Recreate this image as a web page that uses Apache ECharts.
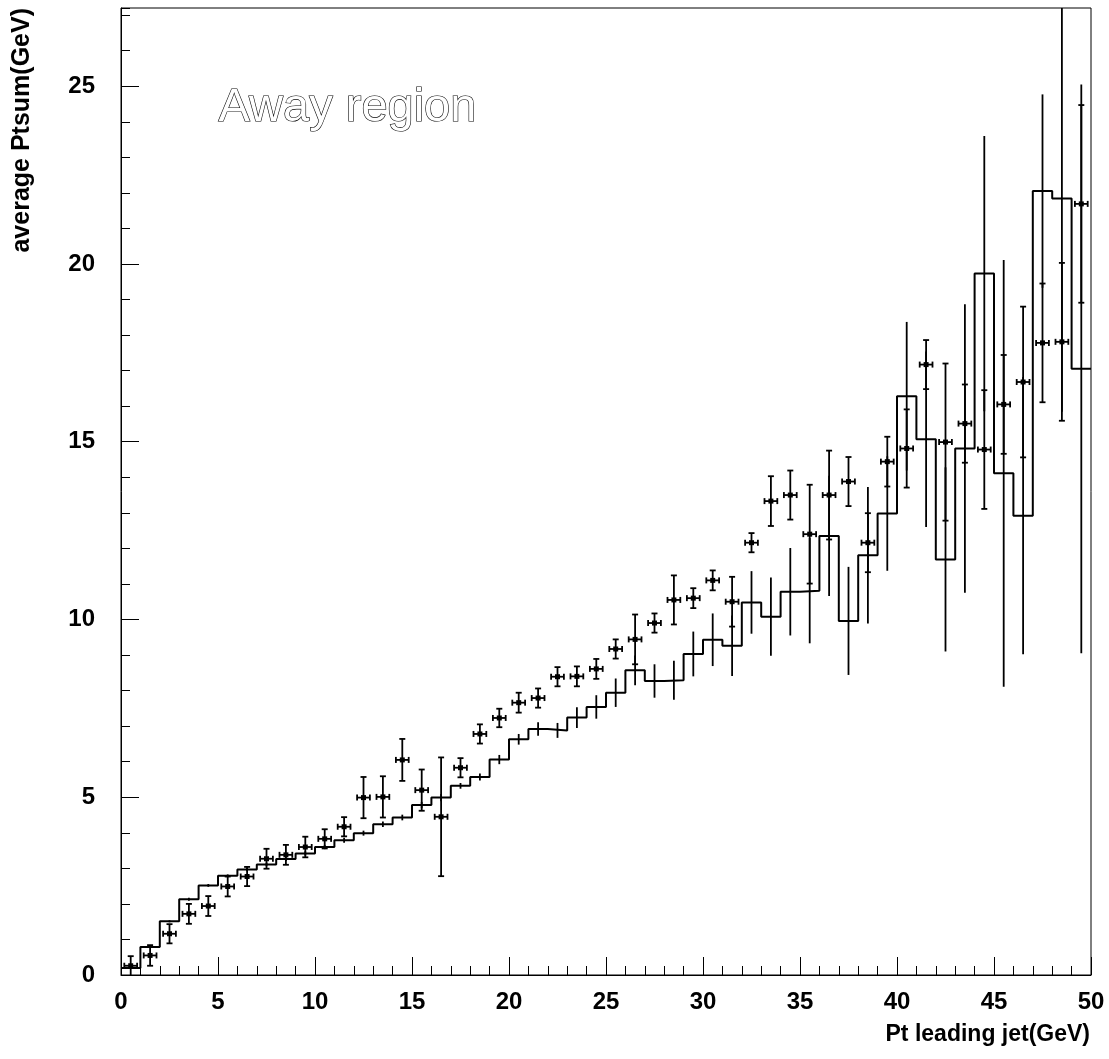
<!DOCTYPE html>
<html>
<head>
<meta charset="utf-8">
<script src="https://cdn.jsdelivr.net/npm/echarts@6/dist/echarts.min.js"></script>
<style>
html,body{margin:0;padding:0;background:#fff;}
#chart{width:1109px;height:1059px;}
</style>
</head>
<body>
<div id="chart"></div>
<script>
// ---- data ----
const binCenters = [0.5,1.5,2.5,3.5,4.5,5.5,6.5,7.5,8.5,9.5,
  10.5,11.5,12.5,13.5,14.5,15.5,16.5,17.5,18.5,19.5,
  20.5,21.5,22.5,23.5,24.5,25.5,26.5,27.5,28.5,29.5,
  30.5,31.5,32.5,33.5,34.5,35.5,36.5,37.5,38.5,39.5,
  40.5,41.5,42.5,43.5,44.5,45.5,46.5,47.5,48.5,49.5];
const binHalfWidth = 0.5;

// histogram (MC) mean and error
const mcMean = [0.20,0.79,1.51,2.13,2.52,2.79,2.97,3.11,3.26,3.42,
  3.60,3.79,3.99,4.24,4.43,4.78,4.99,5.32,5.57,6.06,
  6.63,6.92,6.88,7.24,7.54,7.94,8.57,8.27,8.29,9.03,
  9.43,9.26,10.48,10.08,10.78,10.81,12.35,9.96,11.81,12.98,
  16.28,15.07,11.69,14.81,19.73,14.11,12.92,22.05,21.84,17.05];
const mcErr = [0.02,0.03,0.03,0.04,0.04,0.04,0.05,0.05,0.05,0.06,
  0.06,0.07,0.07,0.08,0.08,0.09,0.10,0.08,0.10,0.13,
  0.15,0.19,0.21,0.29,0.33,0.40,0.42,0.47,0.55,0.63,
  0.74,0.85,0.88,1.10,1.23,1.48,1.69,1.52,1.92,1.61,
  2.09,2.47,2.59,4.06,3.87,6.00,3.90,2.72,6.00,8.00];

// data points mean and error
const dataMean = [0.26,0.55,1.16,1.72,1.94,2.49,2.77,3.27,3.38,3.60,
  3.83,4.17,4.99,5.01,6.05,5.20,4.45,5.83,6.78,7.23,
  7.66,7.79,8.39,8.40,8.61,9.17,9.44,9.90,10.55,10.60,
  11.10,10.50,12.16,13.33,13.50,12.40,13.50,13.88,12.16,14.44,
  14.81,17.17,14.99,15.51,14.78,16.05,16.68,17.78,17.81,21.69];
const dataErr = [0.27,0.29,0.27,0.28,0.28,0.28,0.27,0.28,0.28,0.29,
  0.27,0.27,0.58,0.58,0.59,0.58,1.67,0.27,0.27,0.26,
  0.28,0.27,0.27,0.28,0.28,0.27,0.70,0.27,0.69,0.28,
  0.28,0.70,0.27,0.70,0.69,1.39,1.25,0.69,0.83,0.70,
  1.10,0.69,2.21,1.10,1.67,1.39,2.12,1.67,2.22,2.78];
const dataXErr = 0.33;

const xTickValues = [0,5,10,15,20,25,30,35,40,45,50];
const yTickValues = [0,5,10,15,20,25];
const X_MIN = 0, X_MAX = 50, Y_MIN = 0, Y_MAX = 27.2;

const titleText = 'Away region';
const xTitle = 'Pt leading jet(GeV)';
const yTitle = 'average Ptsum(GeV)';

// ---- build series data ----
const histLine = [];
binCenters.forEach((c, i) => {
  histLine.push([c - binHalfWidth, mcMean[i]]);
  histLine.push([c + binHalfWidth, mcMean[i]]);
});
const mcErrData = binCenters.map((c, i) => [c, mcMean[i], mcErr[i]]);
const dataPts = binCenters.map((c, i) => [c, dataMean[i], dataErr[i]]);

const clampY = v => Math.max(Y_MIN, Math.min(Y_MAX, v));
const LW = 1.8;
const LABEL_FONT = '"Liberation Sans", Arial, sans-serif';
const NARROW_FONT = '"Liberation Sans Narrow", "Liberation Sans", Arial, sans-serif';

const chart = echarts.init(document.getElementById('chart'), null, {renderer: 'canvas'});
chart.setOption({
  animation: false,
  backgroundColor: '#fff',
  grid: {left: 121, right: 18, top: 8, bottom: 84, show: true, borderColor: '#000', borderWidth: 1},
  xAxis: {
    type: 'value', min: X_MIN, max: X_MAX, interval: 5,
    axisLine: {show: true, lineStyle: {color: '#000', width: 1}},
    axisTick: {show: true, inside: true, length: 18, lineStyle: {color: '#000', width: 1}},
    minorTick: {show: true, splitNumber: 5, length: 9, lineStyle: {color: '#000', width: 1}},
    splitLine: {show: false},
    axisLabel: {
      margin: 15, color: '#000', fontWeight: 'bold', fontSize: 24, fontFamily: NARROW_FONT,
      formatter: v => xTickValues.includes(v) ? String(v) : ''
    }
  },
  yAxis: [{
    type: 'value', min: Y_MIN, max: Y_MAX, interval: 5, position: 'left',
    axisLine: {show: true, lineStyle: {color: '#000', width: 1}},
    axisTick: {show: true, inside: true, length: 18, lineStyle: {color: '#000', width: 1}},
    splitLine: {show: false},
    axisLabel: {
      margin: 26, color: '#000', fontWeight: 'bold', fontSize: 24, fontFamily: LABEL_FONT,
      showMaxLabel: false,
      formatter: v => yTickValues.includes(v) ? String(v) : ''
    }
  }, {
    type: 'value', min: Y_MIN, max: Y_MAX, interval: 1, position: 'left', offset: 0,
    axisLine: {show: false},
    axisTick: {show: true, inside: true, length: 9, lineStyle: {color: '#000', width: 1}},
    splitLine: {show: false},
    axisLabel: {show: false}
  }],
  graphic: [
    {type: 'text', left: 218, top: 84, silent: true,
      style: {text: titleText, font: '47px ' + LABEL_FONT, fill: '#fff', stroke: '#000', lineWidth: 1.2}},
    {type: 'text', x: 1090, y: 1035, silent: true,
      style: {text: xTitle, font: 'bold 23px ' + NARROW_FONT, fill: '#000', textAlign: 'right', textVerticalAlign: 'middle'}},
    {type: 'text', x: 22, y: 8, rotation: Math.PI / 2, silent: true,
      style: {text: yTitle, font: 'bold 25px ' + LABEL_FONT, fill: '#000', textAlign: 'right', textVerticalAlign: 'middle'}}
  ],
  series: [
    {
      type: 'line', data: histLine, symbol: 'none', clip: true,
      lineStyle: {color: '#000', width: 2}, z: 3
    },
    {
      type: 'custom', data: mcErrData, encode: {x: 0, y: 1}, z: 3,
      renderItem: (params, api) => {
        const x = api.value(0), y = api.value(1), e = api.value(2);
        const p1 = api.coord([x, clampY(y - e)]);
        const p2 = api.coord([x, clampY(y + e)]);
        return {type: 'line', shape: {x1: p1[0], y1: p1[1], x2: p2[0], y2: p2[1]},
          style: {stroke: '#000', lineWidth: LW}};
      }
    },
    {
      type: 'custom', data: dataPts, encode: {x: 0, y: 1}, z: 4,
      renderItem: (params, api) => {
        const x = api.value(0), y = api.value(1), e = api.value(2);
        const c = api.coord([x, y]);
        const top = api.coord([x, clampY(y + e)]);
        const bot = api.coord([x, clampY(y - e)]);
        const lft = api.coord([x - dataXErr, y]);
        const rgt = api.coord([x + dataXErr, y]);
        const cap = 3;
        const st = {stroke: '#000', lineWidth: LW};
        const children = [
          {type: 'line', shape: {x1: top[0], y1: top[1], x2: bot[0], y2: bot[1]}, style: st},
          {type: 'line', shape: {x1: lft[0], y1: lft[1], x2: rgt[0], y2: rgt[1]}, style: st},
          {type: 'line', shape: {x1: lft[0], y1: lft[1] - cap, x2: lft[0], y2: lft[1] + cap}, style: st},
          {type: 'line', shape: {x1: rgt[0], y1: rgt[1] - cap, x2: rgt[0], y2: rgt[1] + cap}, style: st},
          {type: 'rect', shape: {x: c[0] - 2.5, y: c[1] - 2.5, width: 5, height: 5}, style: {fill: '#000'}}
        ];
        if (y + e <= Y_MAX) children.push({type: 'line', shape: {x1: top[0] - cap, y1: top[1], x2: top[0] + cap, y2: top[1]}, style: st});
        if (y - e >= Y_MIN) children.push({type: 'line', shape: {x1: bot[0] - cap, y1: bot[1], x2: bot[0] + cap, y2: bot[1]}, style: st});
        return {type: 'group', children: children};
      }
    }
  ]
});
</script>
</body>
</html>
